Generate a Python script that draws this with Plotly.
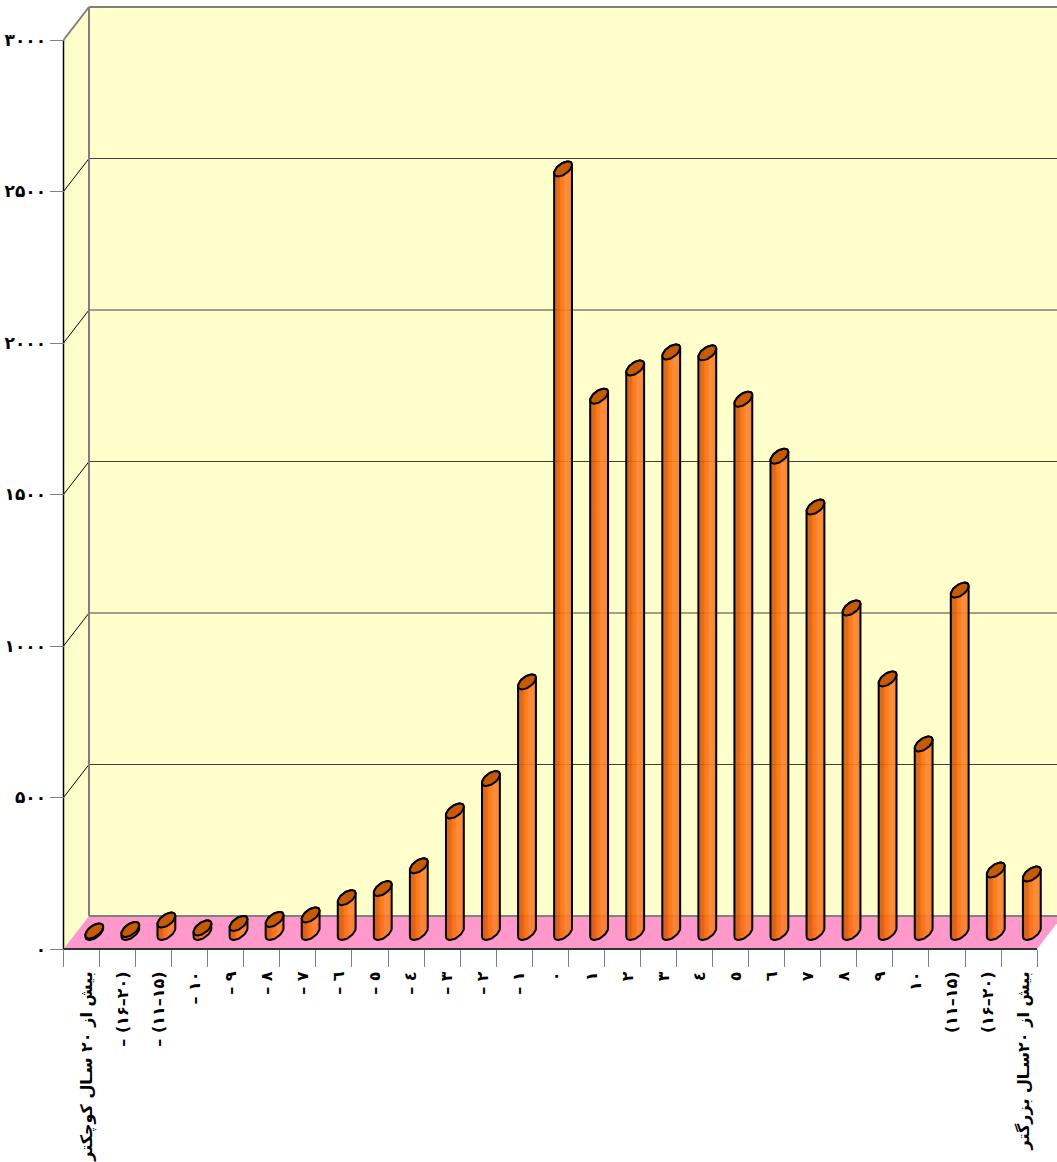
import math
import plotly.graph_objects as go

category_labels = [
    "بیش از ۲۰ سـال کوچکتر", "– (۱۶–۲۰)", "– (۱۱–۱۵)", "– ۱۰", "– ۹", "– ۸", "– ۷", "– ٦", "– ٥", "– ٤", "– ۳", "– ۲", "– ۱",
    "۰", "۱", "۲", "۳", "٤", "٥", "٦", "۷", "۸", "۹", "۱۰",
    "(۱۱–۱۵)", "(۱۶–۲۰)", "بیش از ۲۰سـال بزرگتر",
]
values = [5, 10, 41, 15, 30, 43, 58, 115, 145, 220, 401, 508, 827,
          2520, 1770, 1863, 1916, 1913, 1760, 1572, 1404, 1071, 837, 622, 1130, 206, 193]
y_ticks = [0, 500, 1000, 1500, 2000, 2500, 3000]
y_tick_labels = ["۰", "۵۰۰", "۱۰۰۰", "۱۵۰۰", "۲۰۰۰", "۲۵۰۰", "۳۰۰۰"]

W, H = 1057, 1162
PX_CAT = 36.06
PX_VAL = 0.303
FRONT_L, FRONT_B = 63.5, 949
DX = 25.5 / PX_CAT
DY = 33 / PX_VAL
N = len(values)
x0 = -0.5
x1 = N - 0.5
vmax = 3000
LABEL_SHIFT = 0.14

xr0 = x0 - FRONT_L / PX_CAT
xr = [xr0, xr0 + W / PX_CAT]
yr = [(FRONT_B - H) / PX_VAL, FRONT_B / PX_VAL]

fig = go.Figure()


def poly(xs, ys, **kw):
    path = "M " + " L ".join(f"{a},{b}" for a, b in zip(xs, ys)) + " Z"
    return dict(type="path", path=path, xref="x", yref="y", layer="below", **kw)


def seg(a, b, c, d, color, width):
    return dict(type="line", x0=a, y0=b, x1=c, y1=d, xref="x", yref="y", layer="below",
                line=dict(color=color, width=width))


WALL = "#FFFFCC"
FLOOR = "#FF99CC"
EDGE = "#808080"
shapes = [
    poly([x0, x0 + DX, x0 + DX, x0], [0, DY, vmax + DY, vmax], fillcolor=WALL, line=dict(width=0)),
    poly([x0 + DX, x1 + DX, x1 + DX, x0 + DX], [DY, DY, vmax + DY, vmax + DY], fillcolor=WALL, line=dict(width=0)),
    poly([x0, x1, x1 + DX, x0 + DX], [0, 0, DY, DY], fillcolor=FLOOR, line=dict(width=0)),
]
for v in y_ticks[1:-1]:
    shapes.append(seg(x0, v, x0 + DX, v + DY, "#000000", 1))
    shapes.append(seg(x0 + DX, v + DY, x1 + DX, v + DY, "#404040", 1))
shapes += [
    seg(x0, vmax, x0 + DX, vmax + DY, EDGE, 2),
    seg(x0 + DX, vmax + DY, x1 + DX, vmax + DY, EDGE, 2),
    seg(x0 + DX, DY, x0 + DX, vmax + DY, EDGE, 2),
    seg(x0 + DX, DY, x1 + DX, DY, EDGE, 2),
    seg(x0, 0, x0, vmax, "#000000", 1.5),
    seg(x0, 0, x1, 0, "#333333", 2),
]

RX = 7.4 / PX_CAT
AX = 5.0 / PX_CAT
BY = 7.5 / PX_VAL
T0 = math.atan2(AX, RX)
GRAD = [
    [0.0, "rgba(200,85,10,0.9)"], [0.3, "rgba(225,95,10,0.9)"], [0.36, "rgba(255,105,0,0.9)"],
    [0.55, "rgba(255,115,15,0.9)"], [0.62, "rgba(250,130,45,0.9)"], [0.88, "rgba(250,125,40,0.9)"],
    [1.0, "rgba(230,100,20,0.9)"],
]
steps = 24


def rim(cx, cy, t):
    return cx + RX * math.cos(t) + AX * math.sin(t), cy + BY * math.sin(t)


for i, v in enumerate(values):
    cx = i + DX / 2
    cy0 = DY / 2
    cy1 = v + DY / 2
    xs, ys = [], []
    for k in range(steps + 1):  # lower arc of the base, left extreme to right extreme
        a, b = rim(cx, cy0, T0 + math.pi + k * math.pi / steps)
        xs.append(a); ys.append(b)
    for k in range(steps + 1):  # upper arc of the top, right extreme to left extreme
        a, b = rim(cx, cy1, T0 + k * math.pi / steps)
        xs.append(a); ys.append(b)
    half = math.hypot(RX, AX)
    fig.add_trace(go.Scatter(
        x=xs + xs[:1], y=ys + ys[:1], mode="lines", fill="toself",
        fillgradient=dict(type="horizontal", colorscale=GRAD, start=cx - half, stop=cx + half),
        line=dict(color="#000000", width=2), hoverinfo="skip", showlegend=False))
    tx, ty = [], []
    for k in range(2 * steps + 1):
        a, b = rim(cx, cy1, k * math.pi / steps)
        tx.append(a); ty.append(b)
    fig.add_trace(go.Scatter(
        x=tx, y=ty, mode="lines", fill="toself", fillcolor="#C65A05",
        line=dict(color="#000000", width=2), hoverinfo="skip", showlegend=False))

fig.update_layout(
    width=W, height=H, margin=dict(l=0, r=0, t=0, b=0, autoexpand=False), autosize=False,
    paper_bgcolor="#FFFFFF", plot_bgcolor="#FFFFFF", showlegend=False, shapes=shapes,
    font=dict(family="DejaVu Sans", color="#000000"),
    xaxis=dict(
        automargin=False,
        range=xr, anchor="free", position=(H - FRONT_B) / H, showline=False, showgrid=False, zeroline=False,
        tickmode="array", tickvals=[i + LABEL_SHIFT for i in range(N)], ticktext=category_labels, tickangle=-90,
        ticks="outside", ticklen=15, tickcolor="rgba(0,0,0,0)",
        tickfont=dict(family="DejaVu Sans", size=16, weight="bold", color="#000000"),
        minor=dict(ticks="outside", tickmode="array", tickvals=[i - 0.5 for i in range(N + 1)],
                   ticklen=17, tickcolor=EDGE, tickwidth=1, showgrid=False),
    ),
    yaxis=dict(
        automargin=False,
        range=yr, anchor="free", position=FRONT_L / W, showline=False, showgrid=False, zeroline=False,
        tickmode="array", tickvals=y_ticks, ticktext=y_tick_labels,
        ticks="outside", ticklen=14, tickcolor=EDGE, tickwidth=1,
        tickfont=dict(family="DejaVu Sans", size=17, weight="bold", color="#000000"),
    ),
)
fig.write_html("out.html", config=dict(displayModeBar=False),
               post_script="document.body.style.margin='0';document.body.style.overflow='hidden';")
